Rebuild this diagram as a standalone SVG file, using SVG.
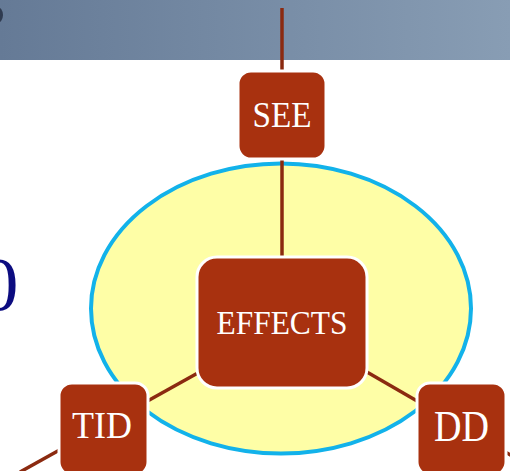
<svg xmlns="http://www.w3.org/2000/svg" width="510" height="471" viewBox="0 0 510 471">
<defs>
<linearGradient id="band" x1="0" y1="0" x2="1" y2="0">
<stop offset="0" stop-color="#657a96"/>
<stop offset="1" stop-color="#889db4"/>
</linearGradient>
</defs>
<style>
.node{fill:#a8310f;stroke:#ffffff;stroke-width:3}
.lbl{fill:#ffffff;font-family:"Liberation Serif","DejaVu Serif",serif;text-anchor:middle}
.conn{stroke:#8b2a10;stroke-width:3.5;fill:none}
</style>
<rect x="0" y="0" width="510" height="60" fill="url(#band)"/>
<ellipse cx="-3" cy="15" rx="6" ry="8" fill="#2f3b50"/>
<text x="-20" y="310" font-family="Liberation Serif, serif" font-size="77" fill="#0c0c80">0</text>
<ellipse id="circle" cx="281" cy="308.5" rx="190" ry="145" fill="#fefea6" stroke="#12b2ea" stroke-width="4"/>
<g id="connectors">
<line class="conn" x1="282" y1="8" x2="282" y2="72"/>
<line class="conn" x1="282" y1="158" x2="282" y2="258"/>
<line class="conn" x1="205" y1="369" x2="20" y2="472"/>
<line class="conn" x1="360" y1="368" x2="512" y2="456"/>
</g>
<g id="see">
<rect class="node" x="238" y="71" width="88" height="88" rx="13" stroke-width="1.5"/>
<text class="lbl" x="282" y="127" font-size="36" textLength="59" lengthAdjust="spacingAndGlyphs">SEE</text>
</g>
<g id="effects">
<rect class="node" x="197" y="257" width="170" height="131" rx="20"/>
<text class="lbl" x="282" y="334" font-size="33" textLength="131" lengthAdjust="spacingAndGlyphs">EFFECTS</text>
</g>
<g id="tid">
<rect class="node" x="59" y="383" width="89" height="92" rx="13"/>
<text class="lbl" x="102" y="438" font-size="37" textLength="60" lengthAdjust="spacingAndGlyphs">TID</text>
</g>
<g id="dd">
<rect class="node" x="417" y="383" width="89" height="92" rx="13"/>
<text class="lbl" x="461.5" y="441" font-size="44" textLength="55" lengthAdjust="spacingAndGlyphs">DD</text>
</g>
</svg>
